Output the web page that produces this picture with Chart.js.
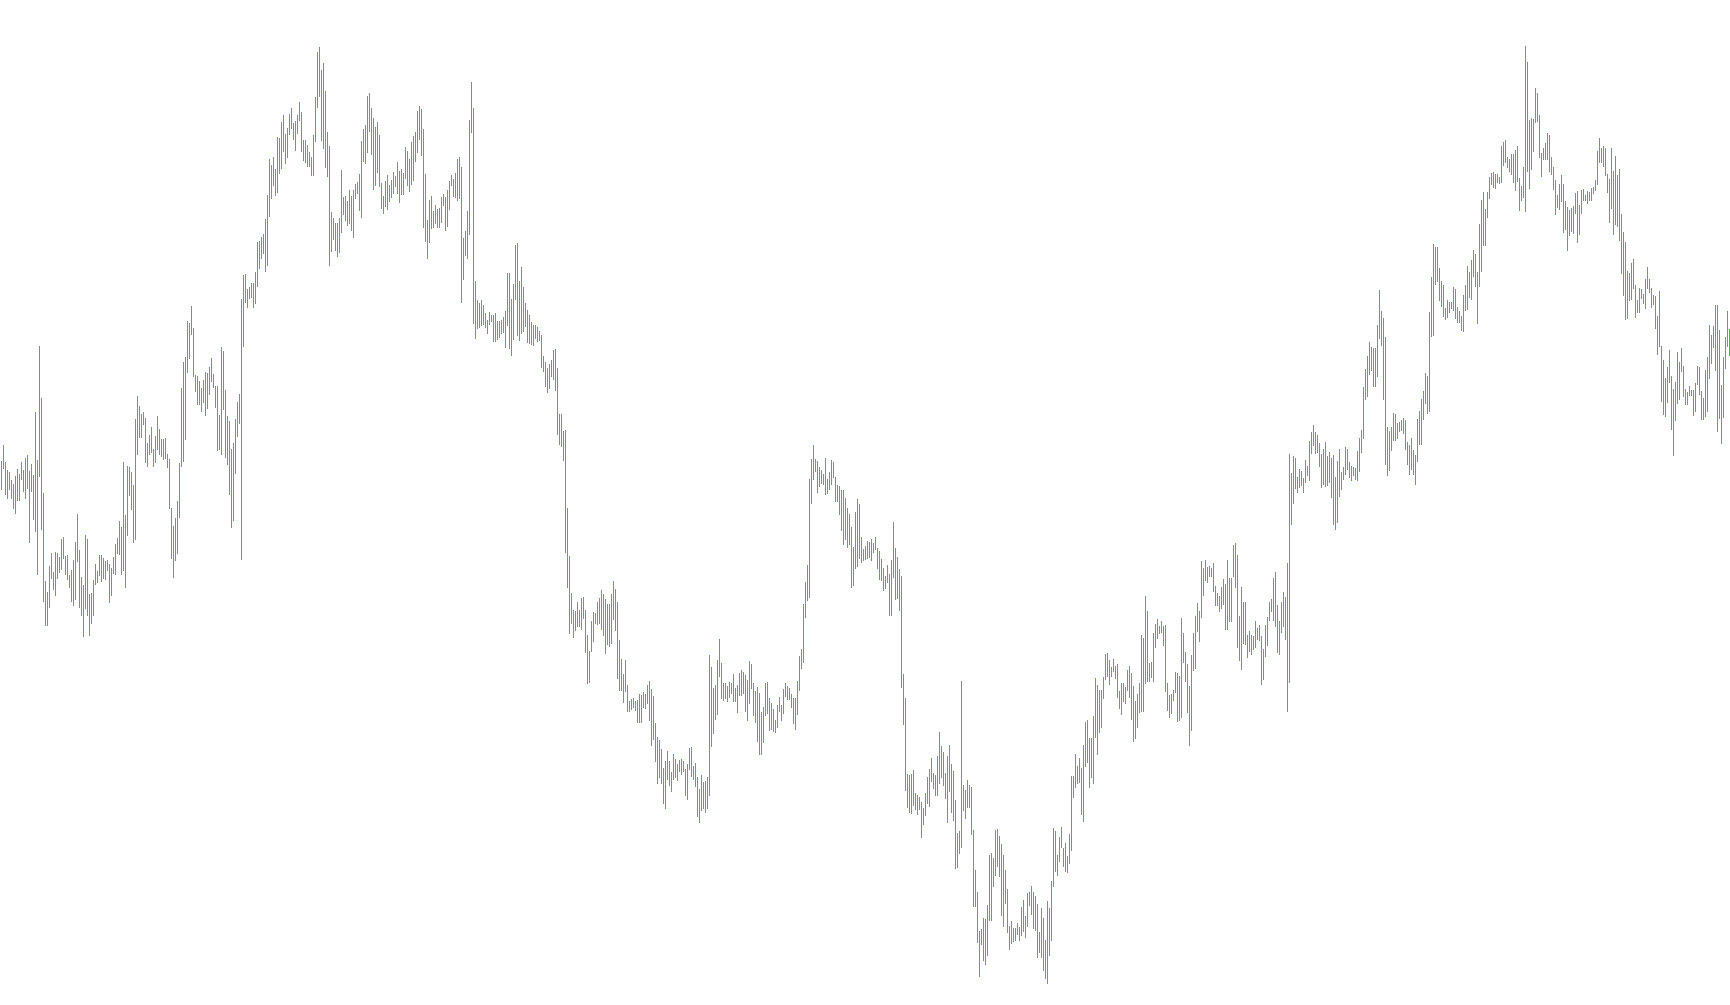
<!DOCTYPE html>
<html>
<head>
<meta charset="utf-8">
<title>Bars</title>
<script src="https://cdn.jsdelivr.net/npm/chart.js@4/dist/chart.umd.min.js"></script>
<style>
    html, body { margin: 0; padding: 0; background: #ffffff; overflow: hidden; }
    #chart { position: absolute; left: 0; top: 0; }
</style>
</head>
<body>
<canvas id="chart" width="1731" height="1005"></canvas>
<script>
// high of each bar
const highs = [
544,560,543,535,533,525,521,529,536,531,543,535,547,550,534,541,530,593,545,659,
607,512,424,413,439,452,433,453,452,448,466,468,449,450,430,435,445,463,491,455,
428,420,470,466,411,412,425,441,434,450,450,447,444,445,441,437,448,461,467,484,
478,543,490,539,538,533,520,586,609,599,591,593,587,562,570,578,556,569,589,576,
566,566,567,551,546,497,479,487,504,542,617,643,648,684,682,699,677,630,629,624,
617,625,633,632,638,647,631,619,619,590,658,654,615,589,584,556,562,586,603,611,
706,730,731,716,718,722,722,733,763,764,768,771,786,810,846,840,848,836,868,867,
883,890,871,877,891,897,882,884,890,903,893,865,865,860,853,848,870,908,953,958,
935,942,914,873,859,793,787,782,782,787,835,808,809,804,815,809,815,821,823,831,
864,876,880,909,912,897,887,878,883,870,822,809,824,830,820,825,833,829,843,834,
836,832,858,854,846,863,869,873,894,899,896,876,831,785,805,809,794,800,796,797,
808,811,808,815,824,830,826,832,846,848,838,767,774,794,885,923,897,724,705,702,
705,700,692,685,693,690,690,692,684,684,685,688,694,732,732,706,721,760,762,724,
738,718,702,695,690,683,680,680,678,674,670,649,643,637,641,645,655,656,637,591,
591,574,575,497,449,412,395,394,403,395,407,408,395,370,354,384,393,392,403,407,
415,411,406,401,401,411,424,416,403,365,346,331,345,320,304,306,307,304,305,311,
310,313,311,320,324,316,309,282,268,265,256,237,244,254,244,233,251,246,241,245,
246,244,236,241,257,258,239,242,228,216,230,223,224,228,350,338,317,320,345,366,
342,322,322,319,323,322,331,317,320,332,335,333,330,325,344,341,322,314,318,312,
293,298,322,323,307,302,296,285,300,308,300,316,322,319,317,311,307,307,324,349,
356,401,423,440,526,546,560,546,544,538,535,531,547,526,533,545,543,528,520,519,
515,515,507,497,491,478,458,493,506,501,468,456,459,464,463,466,462,468,457,454,
446,437,429,440,431,445,483,457,448,436,429,331,307,231,230,231,235,212,210,208,
203,197,212,228,236,247,232,230,249,273,259,253,232,249,260,241,234,205,172,174,
324,220,215,225,220,218,175,135,113,74,76,87,86,100,150,152,147,175,176,169,
161,150,135,116,79,84,77,77,82,78,98,105,89,112,113,119,113,109,101,73,
97,87,65,104,97,124,177,174,150,168,178,157,162,149,171,229,229,251,239,247,
237,260,283,285,267,267,289,327,320,315,315,328,351,352,345,338,346,339,341,314,
322,322,318,335,339,332,319,304,311,322,370,367,409,394,342,343,372,381,386,379,
384,379,380,322,310,311,315,333,332,329,387,372,353,341,319,350,372,389,402,394,
444,437,445,438,439,437,442,419,412,409,418,426,421,445,427,427,460,462,450,389,
418,403,403,370,374,370,369,384,377,380,369,356,380,388,403,406,427,433,400,384,
403,413,408,442,551,532,549,547,528,536,534,527,545,539,564,573,580,573,570,562,
551,556,563,549,553,547,550,528,544,556,533,538,558,556,543,539,538,537,554,567,
575,618,636,649,663,658,657,657,680,715,694,687,668,578,574,578,592,591,582,583,
585,587,585,563,560,567,555,550,586,594,606,614,632,629,693,728,761,758,758,737,
724,720,697,705,703,703,718,716,698,694,689,710,720,739,733,745,755,751,733,781,
805,813,796,813,828,832,833,831,831,828,859,863,865,848,846,851,851,855,859,827,
819,838,959,943,885,887,886,917,912,890,852,857,862,872,870,848,838,825,810,821,
830,821,804,798,795,797,799,812,814,800,815,816,810,814,813,817,818,825,854,867,
857,859,857,831,826,857,834,849,830,836,791,773,763,734,732,742,746,720,705,717,
716,711,726,738,726,717,710,709,689,714,659,645,627,638,655,629,616,623,653,643,
657,639,616,613,619,615,615,622,639,638,614,607,635,648,680,670,679,700,700,675,
620,648,668,694,676
];

// low of each bar, same order
const lows = [
515,536,510,506,515,506,496,491,504,504,525,513,506,516,462,513,485,473,430,528,
475,403,379,379,397,426,415,409,426,432,435,446,430,425,417,403,399,405,443,397,
389,368,396,389,369,381,389,420,422,429,423,426,425,434,402,409,431,430,451,450,
430,434,417,469,509,495,462,465,550,567,567,580,542,538,550,552,538,542,555,550,
548,545,546,537,496,446,427,444,451,487,538,543,565,632,646,670,628,613,600,600,
593,602,589,596,610,623,617,597,554,555,550,595,547,540,510,477,484,531,568,581,
445,658,702,697,706,707,697,701,718,736,746,751,733,739,788,806,819,809,812,831,
836,853,841,847,870,876,865,854,871,884,853,844,842,838,838,829,829,863,897,908,
864,856,837,828,739,753,765,754,748,752,772,790,784,779,781,774,767,806,811,794,
787,843,841,852,873,850,815,819,832,818,796,791,798,795,803,807,811,818,811,802,
810,810,826,819,813,820,824,843,852,865,849,777,763,746,762,776,777,781,777,777,
782,799,774,778,795,819,808,807,804,806,702,725,749,746,770,872,681,666,676,677,
679,680,677,671,680,683,663,663,665,667,671,672,657,679,656,649,665,705,669,664,
671,673,678,662,661,660,659,666,663,664,637,633,618,612,616,628,625,614,570,560,
558,544,452,417,371,381,367,374,378,378,375,386,352,321,322,353,363,381,380,381,
375,369,351,360,358,361,385,374,326,314,314,302,313,293,293,295,297,294,282,282,
282,297,296,301,284,259,265,243,221,227,221,201,196,225,219,213,225,227,224,233,
230,233,209,205,235,228,225,218,188,182,194,196,192,196,209,258,271,285,290,328,
306,304,306,303,307,311,303,303,292,309,309,311,293,284,301,316,289,282,263,250,
250,262,289,291,274,275,273,272,277,293,284,291,308,305,305,297,281,275,290,314,
336,342,387,404,407,501,525,533,512,518,521,520,510,511,515,520,527,503,503,490,
474,460,465,457,460,417,419,436,438,446,442,444,445,446,447,444,452,455,436,425,
424,414,416,422,389,389,427,405,406,394,317,280,214,197,192,191,199,195,190,195,
167,180,189,201,198,223,216,209,209,221,227,219,206,182,213,192,184,136,137,151,
157,194,186,197,197,170,98,98,62,28,60,44,40,49,84,84,118,129,138,128,
89,78,101,72,55,61,63,64,70,64,69,73,67,78,99,90,76,74,47,52,
47,34,26,21,49,64,118,133,129,143,157,138,133,132,141,154,207,217,221,222,
190,183,238,242,217,227,221,267,250,272,277,306,325,328,320,328,333,326,307,296,
290,303,301,314,307,285,263,266,277,292,293,293,321,323,323,327,323,357,366,371,
372,359,313,294,287,291,304,312,283,284,287,342,323,292,259,274,334,336,373,363,
387,409,424,422,428,428,413,399,399,393,396,400,375,375,383,383,428,417,357,344,
335,361,360,347,353,350,355,357,365,364,320,325,348,359,384,393,384,378,352,350,
372,378,365,293,322,480,501,516,512,517,519,512,522,529,524,551,559,551,552,538,
517,520,518,519,522,507,480,475,482,508,515,525,530,535,527,524,529,525,524,533,
552,566,605,608,630,634,618,618,628,666,659,605,540,529,534,554,564,564,566,573,
574,571,555,540,530,535,530,520,543,560,560,585,601,591,593,668,669,720,723,704,
698,688,685,687,692,696,694,686,682,682,674,673,694,695,707,705,728,718,681,718,
733,759,759,787,806,820,817,816,822,821,822,839,842,837,833,830,822,814,823,794,
804,807,793,833,816,835,853,882,883,847,828,845,845,845,833,830,815,790,797,795,
803,772,775,754,769,773,771,791,762,770,791,804,804,801,804,804,811,814,820,842,
842,838,829,812,782,796,770,780,778,764,731,709,685,686,704,705,716,687,692,692,
706,701,696,716,712,697,700,676,650,658,603,590,588,602,622,575,549,584,601,605,
633,608,600,600,609,609,589,593,620,610,585,585,588,593,626,641,657,634,573,586,
561,587,636,658,649
];

const labels = highs.map((_, i) => i);

// each bar is a floating [low, high] column
const bars = highs.map((h, i) => [lows[i], h]);

const ctx = document.getElementById('chart').getContext('2d');
const barChart = new Chart(ctx, {
    type: 'bar',
    data: {
        labels: labels,
        datasets: [{
            data: bars,
            backgroundColor: 'rgb(0, 230, 0)',
            barThickness: 1,
            borderWidth: 0,
            inflateAmount: 0  // default 'auto' fattens the bars
        }]
    },
    options: {
        responsive: false,
        animation: false,
        devicePixelRatio: 1,
        // half a pixel each side puts the 1px columns on whole pixels
        layout: { padding: { left: 0.5, right: 0.5, top: 0, bottom: 0 } },
        plugins: {
            legend: { display: false },
            tooltip: { enabled: false }
        },
        scales: {
            x: { display: false },
            y: { display: false, min: 0, max: 1005 }
        }
    }
});
</script>
</body>
</html>
